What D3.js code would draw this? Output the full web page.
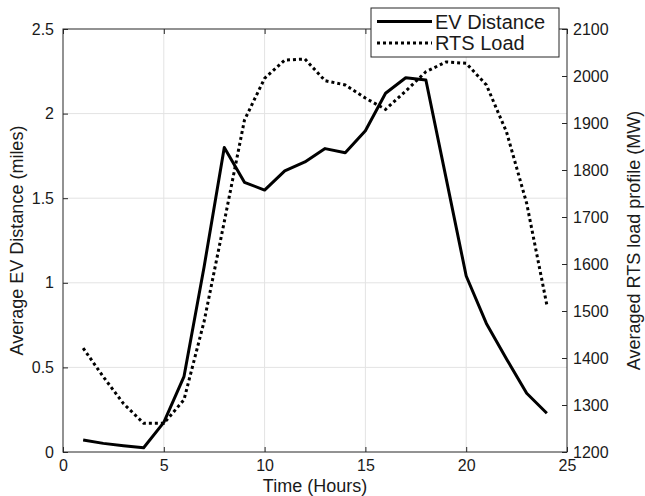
<!DOCTYPE html>
<html>
<head>
<meta charset="utf-8">
<script src="https://cdn.jsdelivr.net/npm/d3@7"></script>
<style>
  body { margin: 0; background: #fff; }
  text { font-family: "Liberation Sans", Arial, sans-serif; fill: #1a1a1a; }
</style>
</head>
<body>
<div id="chart"></div>
<script>
// ura v dnevu
const hours = [1,2,3,4,5,6,7,8,9,10,11,12,13,14,15,16,17,18,19,20,21,22,23,24];
// povprecna razdalja EV (milje)
const evDistance = [0.071, 0.051, 0.037, 0.025, 0.175, 0.445, 1.095, 1.80, 1.594, 1.548, 1.661, 1.714,
  1.793, 1.769, 1.899, 2.12, 2.212, 2.199, 1.62, 1.04, 0.76, 0.55, 0.347, 0.229];
// povprecna obremenitev RTS (MW)
const rtsLoad = [1421, 1360, 1303, 1261, 1261, 1311, 1478, 1690, 1906, 1995, 2034, 2036,
  1990, 1981, 1953, 1929, 1968, 2009, 2030, 2027, 1981, 1881, 1729, 1513];

const xTicks = [0, 5, 10, 15, 20, 25];
const yLeftTicks = [0, 0.5, 1, 1.5, 2, 2.5];
const yRightTicks = [1200, 1300, 1400, 1500, 1600, 1700, 1800, 1900, 2000, 2100];
const legendLabels = ["EV Distance", "RTS Load"];

const W = 645, H = 496;
const margin = { top: 29, right: 78, bottom: 44, left: 63 };
const width = W - margin.left - margin.right;
const height = H - margin.top - margin.bottom;

const svg = d3.select("#chart").append("svg")
  .attr("width", W).attr("height", H);
const g = svg.append("g")
  .attr("transform", `translate(${margin.left},${margin.top})`);

const x = d3.scaleLinear().domain([0, 25]).range([0, width]);
const yL = d3.scaleLinear().domain([0, 2.5]).range([height, 0]);
const yR = d3.scaleLinear().domain([1200, 2100]).range([height, 0]);

// mreza
g.append("g").selectAll("line").data(xTicks.slice(1, -1)).enter().append("line")
  .attr("x1", d => x(d)).attr("x2", d => x(d))
  .attr("y1", 0).attr("y2", height)
  .attr("stroke", "#e3e3e3").attr("stroke-width", 1);
g.append("g").selectAll("line").data(yLeftTicks.slice(1, -1)).enter().append("line")
  .attr("x1", 0).attr("x2", width)
  .attr("y1", d => yL(d)).attr("y2", d => yL(d))
  .attr("stroke", "#e3e3e3").attr("stroke-width", 1);

// osi
function styleAxis(sel) {
  sel.select(".domain").remove();
  sel.selectAll("line").attr("stroke", "#262626");
  sel.selectAll("text").attr("font-size", "16px").attr("fill", "#1a1a1a")
    .attr("font-family", "Liberation Sans, Arial, sans-serif");
}
g.append("g").attr("transform", `translate(0,${height})`)
  .call(d3.axisBottom(x).tickValues(xTicks).tickFormat(d3.format("d")).tickSizeInner(-5).tickSizeOuter(0).tickPadding(8))
  .call(styleAxis);
g.append("g")
  .call(d3.axisTop(x).tickValues(xTicks).tickFormat("").tickSizeInner(-5).tickSizeOuter(0))
  .call(styleAxis);
g.append("g")
  .call(d3.axisLeft(yL).tickValues(yLeftTicks).tickFormat(d => d).tickSizeInner(-5).tickSizeOuter(0).tickPadding(9))
  .call(styleAxis);
g.append("g").attr("transform", `translate(${width},0)`)
  .call(d3.axisRight(yR).tickValues(yRightTicks).tickFormat(d3.format("d")).tickSizeInner(-5).tickSizeOuter(0).tickPadding(6))
  .call(styleAxis);

// okvir
g.append("rect").attr("width", width).attr("height", height)
  .attr("fill", "none").attr("stroke", "#262626").attr("stroke-width", 1);

// crte
const lineEV = d3.line().x((d, i) => x(hours[i])).y(d => yL(d));
const lineRTS = d3.line().x((d, i) => x(hours[i])).y(d => yR(d));

g.append("path").datum(rtsLoad).attr("d", lineRTS)
  .attr("fill", "none").attr("stroke", "#000").attr("stroke-width", 3)
  .attr("stroke-dasharray", "3,3");
g.append("path").datum(evDistance).attr("d", lineEV)
  .attr("fill", "none").attr("stroke", "#000").attr("stroke-width", 3)
  .attr("stroke-linejoin", "round");

// oznake osi
svg.append("text").attr("x", margin.left + width / 2).attr("y", 492)
  .attr("text-anchor", "middle").attr("font-size", "18px").text("Time (Hours)");
svg.append("text").attr("transform", `translate(23,${margin.top + height / 2}) rotate(-90)`)
  .attr("text-anchor", "middle").attr("font-size", "18px").text("Average EV Distance (miles)");
svg.append("text").attr("transform", `translate(640,${margin.top + height / 2}) rotate(-90)`)
  .attr("text-anchor", "middle").attr("font-size", "18px").text("Averaged RTS load profile (MW)");

// legenda
const leg = svg.append("g").attr("transform", "translate(371,8)");
leg.append("rect").attr("width", 188).attr("height", 49)
  .attr("fill", "#fff").attr("stroke", "#262626").attr("stroke-width", 1);
legendLabels.forEach((lab, i) => {
  const yy = 13.5 + i * 21.5;
  leg.append("line").attr("x1", 6).attr("x2", 61).attr("y1", yy).attr("y2", yy)
    .attr("stroke", "#000").attr("stroke-width", 3)
    .attr("stroke-dasharray", i === 1 ? "3,3" : null);
  leg.append("text").attr("x", 64).attr("y", yy).attr("dy", "0.35em")
    .attr("font-size", "20px").attr("fill", "#000").text(lab);
});
</script>
</body>
</html>
